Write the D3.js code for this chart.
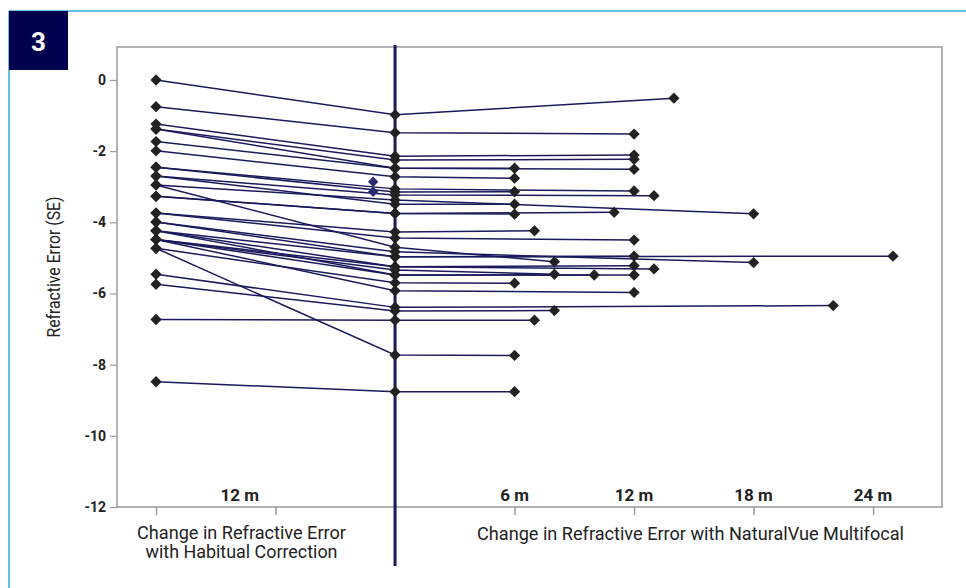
<!DOCTYPE html>
<html>
<head>
<meta charset="utf-8">
<script src="https://cdn.jsdelivr.net/npm/d3@7"></script>
<style>
  html, body { margin: 0; padding: 0; background: #fff; }
  svg { display: block; }
  text { font-family: Roboto, "Noto Sans", sans-serif; }
</style>
</head>
<body>
<svg id="chart" width="966" height="588"></svg>
<script>
// ---- data ----
const habitualMonth = -12;
const baselineMonth = 0;
const habitualSE = [0.00, -0.75, -1.24, -1.38, -1.73, -1.38, -1.99, -2.45, -2.45, -2.70, -2.70, -2.95, -3.27, -3.27, -3.74, -3.74, -3.99, -4.24, -3.99, -2.95, -4.24, -4.48, -4.48, -4.24, -4.48, -4.73, -4.48, -5.46, -5.74, -6.73, -4.73, -8.48];
const baselineSE = [-0.98, -1.48, -2.14, -2.25, -2.48, -2.48, -2.72, -3.06, -3.15, -3.23, -3.49, -3.37, -3.75, -3.75, -4.27, -4.44, -4.97, -4.97, -4.83, -4.70, -5.25, -5.25, -5.34, -5.48, -5.48, -5.70, -5.92, -6.39, -6.49, -6.75, -7.73, -8.76];
const nvMonths   = [14, 12, 12, 12, 6, 12, 6, 12, 6, 13, 6, 18, 11, 6, 7, 12, 12, 25, 18, 8, 12, 13, 8, 10, 12, 6, 12, 22, 8, 7, 6, 6];
const nvSE       = [-0.51, -1.52, -2.11, -2.23, -2.48, -2.51, -2.76, -3.12, -3.14, -3.25, -3.49, -3.76, -3.72, -3.77, -4.24, -4.50, -4.95, -4.95, -5.13, -5.11, -5.22, -5.31, -5.46, -5.48, -5.48, -5.71, -5.97, -6.34, -6.48, -6.75, -7.74, -8.76];
const extraMonths = [-1.1, -1.1];
const extraSE     = [-2.86, -3.14];

const yTicks = [0, -2, -4, -6, -8, -10, -12];
const xTicks = [-12, -6, 6, 12, 18, 24];
const periodLabelMonths = [-7.8, 6, 12, 18, 24];
const periodLabels = ["12 m", "6 m", "12 m", "18 m", "24 m"];
const yTitle = "Refractive Error (SE)";
const leftCaption = ["Change in Refractive Error", "with Habitual Correction"];
const rightCaption = "Change in Refractive Error with NaturalVue Multifocal";
const figNumber = "3";

// ---- layout ----
const svg = d3.select("#chart");
const L = 117, R = 942, T = 47, B = 507;
const x = d3.scaleLinear().domain([-13.96, 27.46]).range([L, R]);
const y = d3.scaleLinear().domain([-12, 0.927]).range([B, T]);

const navy = "#1b1a5c";
const gray = "#9a9a9a";

// figure border (cyan)
svg.append("line").attr("x1", 9).attr("y1", 11).attr("x2", 966).attr("y2", 11)
  .attr("stroke", "#35a8d6").attr("stroke-width", 1.5);
svg.append("line").attr("x1", 9).attr("y1", 11).attr("x2", 9).attr("y2", 588)
  .attr("stroke", "#35a8d6").attr("stroke-width", 1.5);

// number box
svg.append("rect").attr("x", 9).attr("y", 11).attr("width", 59).attr("height", 59).attr("fill", "#00004f");
svg.append("text").attr("x", 38.5).attr("y", 51).attr("text-anchor", "middle")
  .attr("fill", "#fff").attr("font-size", 26).attr("font-weight", 700).text(figNumber);

// plot frame
svg.append("rect").attr("x", L).attr("y", T).attr("width", R - L).attr("height", B - T)
  .attr("fill", "none").attr("stroke", gray).attr("stroke-width", 1.5);

// y axis
const yAxis = svg.append("g").attr("transform", `translate(${L},0)`)
  .call(d3.axisLeft(y).tickValues(yTicks).tickSize(7).tickPadding(4).tickFormat(d3.format("d")));
yAxis.select(".domain").remove();
yAxis.selectAll(".tick line").attr("stroke", gray).attr("stroke-width", 1.2);
yAxis.selectAll(".tick text").attr("font-family", "Roboto, sans-serif").attr("font-size", 14)
  .attr("font-weight", 700).attr("fill", "#222").text(d => d === 0 ? "0" : String(d));

// x axis ticks (no labels)
const xAxis = svg.append("g").attr("transform", `translate(0,${B})`)
  .call(d3.axisBottom(x).tickValues(xTicks).tickSize(8).tickFormat(""));
xAxis.select(".domain").remove();
xAxis.selectAll(".tick line").attr("stroke", gray).attr("stroke-width", 1.5);

// period labels inside plot
svg.selectAll("text.period").data(periodLabelMonths).join("text")
  .attr("class", "period")
  .attr("x", d => x(d)).attr("y", 501).attr("text-anchor", "middle")
  .attr("font-size", 17).attr("font-weight", 700).attr("fill", "#222")
  .text((d, i) => periodLabels[i]);

// vertical baseline line
svg.append("line").attr("x1", x(baselineMonth)).attr("x2", x(baselineMonth))
  .attr("y1", 45).attr("y2", 566).attr("stroke", navy).attr("stroke-width", 3);

// patient lines
const patients = habitualSE.map((h, i) => [
  [habitualMonth, h], [baselineMonth, baselineSE[i]], [nvMonths[i], nvSE[i]]
]);
const line = d3.line().x(d => x(d[0])).y(d => y(d[1]));
svg.append("g").selectAll("path").data(patients).join("path")
  .attr("d", line).attr("fill", "none").attr("stroke", navy).attr("stroke-width", 1.5);

// markers
const diamond = d3.symbol().type(d3.symbolSquare).size(64);
const pts = patients.flat();
svg.append("g").selectAll("path").data(pts).join("path")
  .attr("d", diamond)
  .attr("transform", d => `translate(${x(d[0])},${y(d[1])}) rotate(45)`)
  .attr("fill", "#222");

svg.append("g").selectAll("path").data(extraMonths.map((m, i) => [m, extraSE[i]])).join("path")
  .attr("d", d3.symbol().type(d3.symbolSquare).size(54))
  .attr("transform", d => `translate(${x(d[0])},${y(d[1])}) rotate(45)`)
  .attr("fill", "#2a2a72");

// y title
svg.append("text").attr("transform", "translate(60,267) rotate(-90)")
  .attr("text-anchor", "middle").attr("font-size", 19).attr("fill", "#222")
  .attr("textLength", 141).attr("lengthAdjust", "spacingAndGlyphs").text(yTitle);

// captions
svg.append("text").attr("x", 241.5).attr("y", 539).attr("text-anchor", "middle")
  .attr("font-size", 18).attr("fill", "#222").attr("textLength", 209).attr("lengthAdjust", "spacingAndGlyphs")
  .text(leftCaption[0]);
svg.append("text").attr("x", 241.5).attr("y", 558).attr("text-anchor", "middle")
  .attr("font-size", 18).attr("fill", "#222").attr("textLength", 192).attr("lengthAdjust", "spacingAndGlyphs")
  .text(leftCaption[1]);
svg.append("text").attr("x", 690.5).attr("y", 540).attr("text-anchor", "middle")
  .attr("font-size", 18).attr("fill", "#222").attr("textLength", 427).attr("lengthAdjust", "spacingAndGlyphs")
  .text(rightCaption);
</script>
</body>
</html>
